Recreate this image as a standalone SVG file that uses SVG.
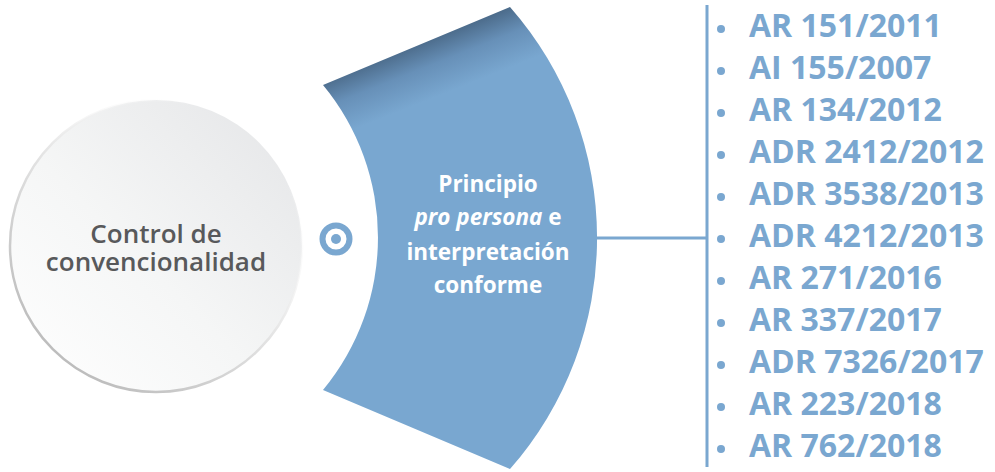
<svg xmlns="http://www.w3.org/2000/svg" width="995" height="472" viewBox="0 0 995 472">
  <defs>
    <linearGradient id="circFill" x1="1" y1="0" x2="0" y2="1">
      <stop offset="0" stop-color="#e4e5e7"/>
      <stop offset="0.55" stop-color="#f5f6f6"/>
      <stop offset="1" stop-color="#ffffff"/>
    </linearGradient>
    <linearGradient id="circStroke" x1="0.8" y1="0.15" x2="0.2" y2="0.9">
      <stop offset="0" stop-color="#ffffff" stop-opacity="0"/>
      <stop offset="0.45" stop-color="#e6e6e6"/>
      <stop offset="1" stop-color="#bdbdbd"/>
    </linearGradient>
    <linearGradient id="wedgeFill" gradientUnits="userSpaceOnUse" x1="405" y1="42" x2="428" y2="100">
      <stop offset="0" stop-color="#45627f"/>
      <stop offset="0.5" stop-color="#6790b8"/>
      <stop offset="1" stop-color="#79a7d0"/>
    </linearGradient>
    <style>
      .dark { font-family: "Open Sans", "Liberation Sans", sans-serif; font-weight: 600; fill: #58595b; font-size: 26px; text-anchor: middle; }
      .wtxt { font-family: "Open Sans", "Liberation Sans", sans-serif; font-weight: 700; fill: #ffffff; font-size: 22.5px; text-anchor: middle; }
      .item { font-family: "Open Sans", "Liberation Sans", sans-serif; font-weight: 700; fill: #7aa7d0; font-size: 32px; }
      .blue { fill: #7aa7d0; }
      .line { stroke: #7aa7d0; stroke-width: 3; fill: none; }
    </style>
  </defs>

  <g id="control">
    <circle cx="156" cy="246" r="146" fill="url(#circFill)" stroke="url(#circStroke)" stroke-width="2.5"/>
    <text class="dark"><tspan x="156" y="243">Control de</tspan><tspan x="156" y="271">convencionalidad</tspan></text>
  </g>

  <g id="target">
    <circle cx="336" cy="239" r="13.5" fill="none" stroke="#7aa7d0" stroke-width="6"/>
    <circle cx="336" cy="239" r="5" class="blue"/>
  </g>

  <g id="principio">
    <path d="M323,85 L510,7 A350,350 0 0 1 510,469 L323,390 A239,239 0 0 0 323,85 Z" fill="url(#wedgeFill)"/>
    <text class="wtxt" x="488" y="192">Principio</text>
    <text class="wtxt" x="488" y="225"><tspan font-style="italic">pro persona</tspan> e</text>
    <text class="wtxt" x="488" y="260">interpretación</text>
    <text class="wtxt" x="488" y="293">conforme</text>
  </g>

  <g id="connectors">
    <line class="line" x1="597" y1="238" x2="707" y2="238"/>
    <line class="line" x1="707" y1="5" x2="707" y2="467"/>
  </g>

  <g id="list">
    <g class="blue">
      <circle cx="721" cy="29" r="4"/>
      <circle cx="721" cy="71" r="4"/>
      <circle cx="721" cy="113" r="4"/>
      <circle cx="721" cy="155" r="4"/>
      <circle cx="721" cy="197" r="4"/>
      <circle cx="721" cy="239" r="4"/>
      <circle cx="721" cy="281" r="4"/>
      <circle cx="721" cy="323" r="4"/>
      <circle cx="721" cy="365" r="4"/>
      <circle cx="721" cy="407" r="4"/>
      <circle cx="721" cy="449" r="4"/>
    </g>
    <text class="item" x="749" y="37">AR 151/2011</text>
    <text class="item" x="749" y="79">AI 155/2007</text>
    <text class="item" x="749" y="121">AR 134/2012</text>
    <text class="item" x="749" y="163">ADR 2412/2012</text>
    <text class="item" x="749" y="205">ADR 3538/2013</text>
    <text class="item" x="749" y="247">ADR 4212/2013</text>
    <text class="item" x="749" y="289">AR 271/2016</text>
    <text class="item" x="749" y="331">AR 337/2017</text>
    <text class="item" x="749" y="373">ADR 7326/2017</text>
    <text class="item" x="749" y="415">AR 223/2018</text>
    <text class="item" x="749" y="457">AR 762/2018</text>
  </g>
</svg>
